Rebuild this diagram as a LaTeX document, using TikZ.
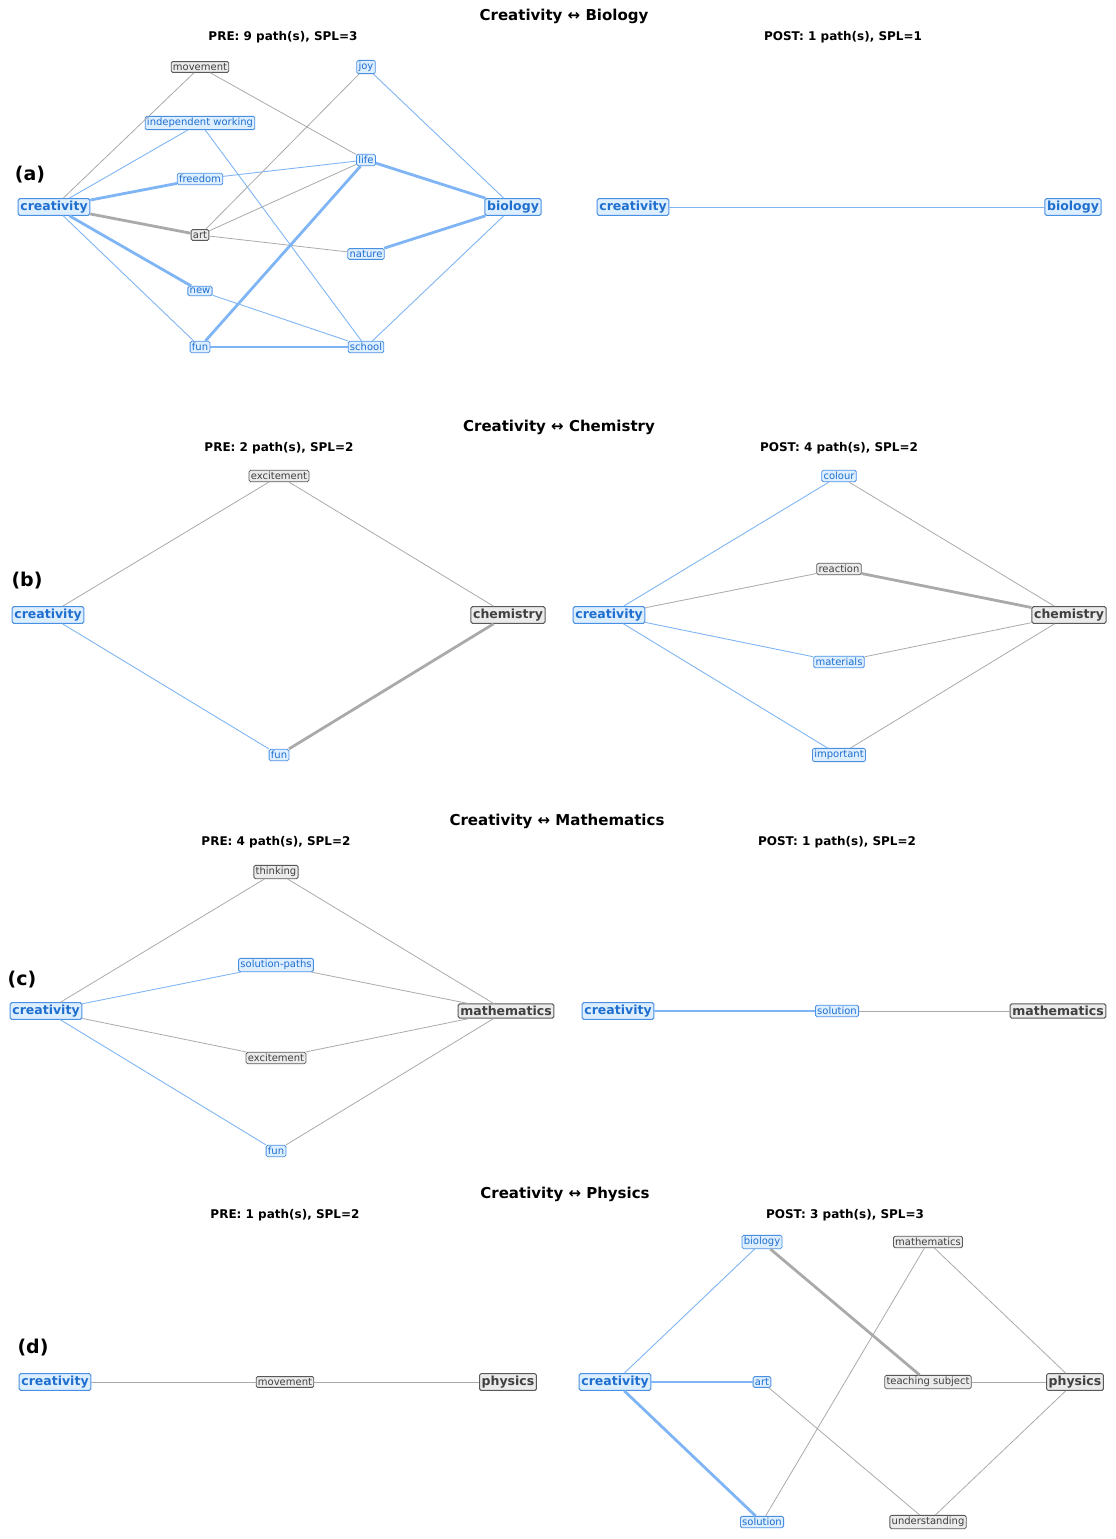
\documentclass[tikz,border=0pt]{standalone}
\usepackage{fontspec}
\setmainfont{DejaVu Sans}
\definecolor{bdraw}{HTML}{4A90E2}
\definecolor{bfill}{HTML}{DDEEFF}
\definecolor{btext}{HTML}{1F6FCF}
\definecolor{bedge}{HTML}{7FB5F5}
\definecolor{gedge}{HTML}{AAAAAA}
\begin{document}
\begin{tikzpicture}[x=1pt,y=-1pt,
 bn/.style={draw=bdraw, fill=bfill, text=btext, rounded corners=1.5pt, font=\fontsize{10}{11}\selectfont, inner sep=1.8pt, line width=0.8pt},
 gn/.style={draw=black!65, fill=black!8, text=black!75, rounded corners=1.5pt, font=\fontsize{10}{11}\selectfont, inner sep=1.8pt, line width=0.8pt},
 big/.style={font=\bfseries\fontsize{12.5}{13}\selectfont, inner sep=2.2pt, line width=1pt},
 be/.style={draw=bedge, line width=0.9pt},
 bE/.style={draw=bedge, line width=2.8pt},
 ge/.style={draw=gedge, line width=0.8pt},
 gE/.style={draw=gedge, line width=2.8pt},
 ti/.style={font=\bfseries\fontsize{15}{16}\selectfont},
 st/.style={font=\bfseries\fontsize{12}{13}\selectfont},
 lab/.style={font=\bfseries\fontsize{19}{19}\selectfont}]
\useasboundingbox (0,0) rectangle (1116,1539);
% (a)
\node[ti] (ta) at (564,16) {Creativity ↔ Biology};
\node[st] (pa) at (283,37) {PRE: 9 path(s), SPL=3};
\node[st] (qa) at (843,37) {POST: 1 path(s), SPL=1};
\node[lab] (la) at (30,175) {(a)};
\node[bn,big] (a1) at (54,207) {creativity};
\node[gn] (a2) at (200,67) {movement};
\node[bn] (a3) at (200,123) {independent working};
\node[bn] (a4) at (200,179) {freedom};
\node[gn] (a5) at (200,235) {art};
\node[bn] (a6) at (200,291) {new};
\node[bn] (a7) at (200,347) {fun};
\node[bn] (a8) at (366,67) {joy};
\node[bn] (a9) at (366,160) {life};
\node[bn] (a10) at (366,254) {nature};
\node[bn] (a11) at (366,347) {school};
\node[bn,big] (a12) at (513,207) {biology};
\node[bn,big] (a13) at (633,207) {creativity};
\node[bn,big] (a14) at (1073,207) {biology};
% (b)
\node[ti] (tb) at (559,427) {Creativity ↔ Chemistry};
\node[st] (pb) at (279,448) {PRE: 2 path(s), SPL=2};
\node[st] (qb) at (839,448) {POST: 4 path(s), SPL=2};
\node[lab] (lb) at (27,581) {(b)};
\node[bn,big] (b1) at (48,615) {creativity};
\node[gn] (b2) at (279,476) {excitement};
\node[bn] (b3) at (279,755) {fun};
\node[gn,big] (b4) at (508,615) {chemistry};
\node[bn,big] (b5) at (609,615) {creativity};
\node[bn] (b6) at (839,476) {colour};
\node[gn] (b7) at (839,569) {reaction};
\node[bn] (b8) at (839,662) {materials};
\node[bn] (b9) at (839,755) {important};
\node[gn,big] (b10) at (1069,615) {chemistry};
% (c)
\node[ti] (tc) at (557,821) {Creativity ↔ Mathematics};
\node[st] (pc) at (276,842) {PRE: 4 path(s), SPL=2};
\node[st] (qc) at (837,842) {POST: 1 path(s), SPL=2};
\node[lab] (lc) at (22,980) {(c)};
\node[bn,big] (c1) at (46,1011) {creativity};
\node[gn] (c2) at (276,872) {thinking};
\node[bn] (c3) at (276,965) {solution-paths};
\node[gn] (c4) at (276,1058) {excitement};
\node[bn] (c5) at (276,1151) {fun};
\node[gn,big] (c6) at (506,1011) {mathematics};
\node[bn,big] (c7) at (618,1011) {creativity};
\node[bn] (c8) at (837,1011) {solution};
\node[gn,big] (c9) at (1058,1011) {mathematics};
% (d)
\node[ti] (td) at (565,1194) {Creativity ↔ Physics};
\node[st] (pd) at (285,1215) {PRE: 1 path(s), SPL=2};
\node[st] (qd) at (845,1215) {POST: 3 path(s), SPL=3};
\node[lab] (ld) at (33,1348) {(d)};
\node[bn,big] (d1) at (55,1382) {creativity};
\node[gn] (d2) at (285,1382) {movement};
\node[gn,big] (d3) at (508,1382) {physics};
\node[bn,big] (d4) at (615,1382) {creativity};
\node[bn] (d5) at (762,1242) {biology};
\node[bn] (d6) at (762,1382) {art};
\node[bn] (d7) at (762,1522) {solution};
\node[gn] (d8) at (928,1242) {mathematics};
\node[gn] (d9) at (928,1382) {teaching subject};
\node[gn] (d10) at (928,1522) {understanding};
\node[gn,big] (d11) at (1075,1382) {physics};
% edges
\draw[ge] (a1)--(a2); \draw[be] (a1)--(a3); \draw[bE] (a1)--(a4); \draw[gE] (a1)--(a5);
\draw[bE] (a1)--(a6); \draw[be] (a1)--(a7); \draw[ge] (a2)--(a9); \draw[be] (a3)--(a11);
\draw[be] (a4)--(a9); \draw[ge] (a5)--(a8); \draw[ge] (a5)--(a9); \draw[ge] (a5)--(a10);
\draw[be] (a6)--(a11); \draw[bE] (a7)--(a9); \draw[bE] (a7)--(a11); \draw[be] (a8)--(a12);
\draw[bE] (a9)--(a12); \draw[bE] (a10)--(a12); \draw[be] (a11)--(a12);
\draw[be] (a13)--(a14);
\draw[ge] (b1)--(b2); \draw[be] (b1)--(b3); \draw[ge] (b2)--(b4); \draw[gE] (b3)--(b4);
\draw[be] (b5)--(b6); \draw[ge] (b5)--(b7); \draw[be] (b5)--(b8); \draw[be] (b5)--(b9);
\draw[ge] (b6)--(b10); \draw[gE] (b7)--(b10); \draw[ge] (b8)--(b10); \draw[ge] (b9)--(b10);
\draw[ge] (c1)--(c2); \draw[be] (c1)--(c3); \draw[ge] (c1)--(c4); \draw[be] (c1)--(c5);
\draw[ge] (c2)--(c6); \draw[ge] (c3)--(c6); \draw[ge] (c4)--(c6); \draw[ge] (c5)--(c6);
\draw[bE] (c7)--(c8); \draw[ge] (c8)--(c9);
\draw[ge] (d1)--(d2); \draw[ge] (d2)--(d3);
\draw[be] (d4)--(d5); \draw[bE] (d4)--(d6); \draw[bE] (d4)--(d7); \draw[gE] (d5)--(d9);
\draw[ge] (d8)--(d7); \draw[ge] (d6)--(d10); \draw[ge] (d8)--(d11); \draw[ge] (d9)--(d11);
\draw[ge] (d10)--(d11);
\end{tikzpicture}
\end{document}
